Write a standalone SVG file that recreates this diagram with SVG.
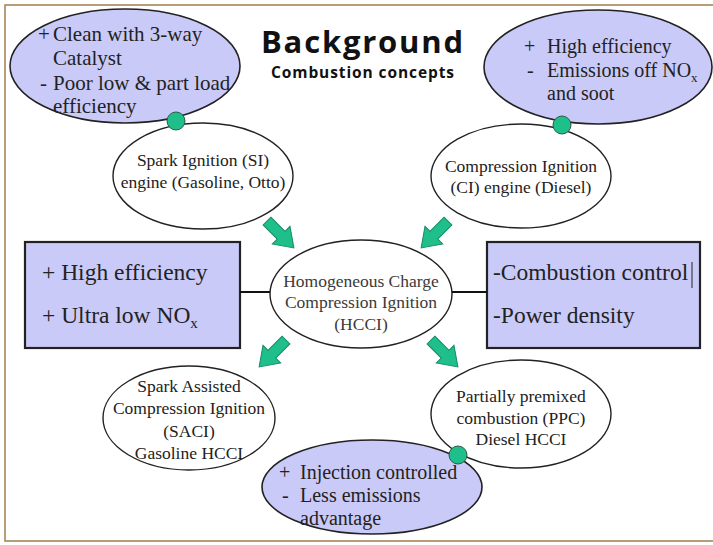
<svg xmlns="http://www.w3.org/2000/svg" width="713" height="545" viewBox="0 0 713 545">
<style>
.lav{fill:#cacaf8;stroke:#222;stroke-width:1.6}
.wht{fill:#fff;stroke:#222;stroke-width:1.4}
.box{fill:#cacaf8;stroke:#222;stroke-width:2.2}
text.t{font-family:'Liberation Serif','DejaVu Serif','Times New Roman',Times,serif;fill:#222}
.s17{font-size:17.5px;text-anchor:middle}
.s20{font-size:20px}
.s21{font-size:21px}
.s23{font-size:23.5px}
.sub{font-size:13px}
.dot{fill:#1fbf8c;stroke:#2a5a48;stroke-width:1}
.arr{fill:#1fbf8c;stroke:#178a66;stroke-width:1}
.ln{stroke:#111;stroke-width:2;fill:none}
text.h{font-family:'Open Sans','Liberation Sans',sans-serif;font-weight:700;fill:#111}
text.g{fill:#3a3a3a}
</style>
<defs>
<path id="ar" d="M0,-5.5 L20,-5.5 L20,-12.5 L38,0 L20,12.5 L20,5.5 L0,5.5 Z"/>
</defs>
<rect x="0" y="0" width="713" height="545" fill="#fff"/>
<rect x="5" y="5" width="740" height="536" fill="none" stroke="#a98458" stroke-width="1.6"/>

<g id="title">
<text class="h" x="261" y="53" font-size="31" textLength="202" lengthAdjust="spacing">Background</text>
<text class="h" x="271" y="78" font-size="15.5" textLength="183" lengthAdjust="spacing">Combustion concepts</text>
</g>

<g id="si-engine">
<ellipse class="wht" cx="203" cy="176" rx="90" ry="53"/>
<text class="t s17" x="203" y="166">Spark Ignition (SI)</text>
<text class="t s17" x="203" y="188">engine (Gasoline, Otto)</text>
</g>

<g id="si-notes">
<ellipse class="lav" cx="125" cy="66" rx="115" ry="57"/>
<text class="t s21" x="38" y="41">+</text>
<text class="t s21" x="53" y="41">Clean with 3-way</text>
<text class="t s21" x="53" y="65">Catalyst</text>
<text class="t s21" x="40" y="90">-</text>
<text class="t s21" x="53" y="90">Poor low &amp; part load</text>
<text class="t s21" x="53" y="113">efficiency</text>
</g>

<g id="ci-engine">
<ellipse class="wht" cx="521" cy="176" rx="90" ry="52"/>
<text class="t s17" x="521" y="172">Compression Ignition</text>
<text class="t s17" x="521" y="193">(CI) engine (Diesel)</text>
</g>

<g id="ci-notes">
<ellipse class="lav" cx="598" cy="67" rx="114" ry="57"/>
<text class="t s20" x="524" y="53">+</text>
<text class="t s20" x="547" y="53">High efficiency</text>
<text class="t s20" x="527" y="77">-</text>
<text class="t s20" x="547" y="77">Emissions off NO<tspan class="sub" dy="5">x</tspan></text>
<text class="t s20" x="547" y="100">and soot</text>
</g>

<g id="hcci">
<ellipse class="wht" cx="361" cy="294" rx="91" ry="54"/>
<text class="t g s17" x="361" y="287">Homogeneous Charge</text>
<text class="t g s17" x="361" y="308">Compression Ignition</text>
<text class="t g s17" x="361" y="330">(HCCI)</text>
</g>

<g id="pros">
<rect class="box" x="25" y="242" width="215" height="106"/>
<text class="t s23" x="42" y="280">+ High efficiency</text>
<text class="t s23" x="42" y="323">+ Ultra low NO<tspan font-size="15" dy="5">x</tspan></text>
</g>

<g id="cons">
<rect class="box" x="487" y="242" width="213" height="106"/>
<text class="t s23" x="493" y="280">-Combustion control</text>
<line x1="692" y1="262" x2="692" y2="288" stroke="#222" stroke-width="1"/>
<text class="t s23" x="493" y="323">-Power density</text>
</g>

<g id="saci">
<ellipse class="wht" cx="189" cy="418" rx="86" ry="52"/>
<text class="t s17" x="189" y="392">Spark Assisted</text>
<text class="t s17" x="189" y="414">Compression Ignition</text>
<text class="t s17" x="189" y="437">(SACI)</text>
<text class="t s17" x="189" y="459">Gasoline HCCI</text>
</g>

<g id="ppc">
<ellipse class="wht" cx="521" cy="414" rx="90" ry="54"/>
<text class="t s17" x="521" y="402">Partially premixed</text>
<text class="t s17" x="521" y="424">combustion (PPC)</text>
<text class="t s17" x="521" y="445">Diesel HCCI</text>
</g>

<g id="ppc-notes">
<ellipse class="lav" cx="372" cy="487" rx="110" ry="47"/>
<text class="t s20" x="279" y="479">+</text>
<text class="t s20" x="300" y="479">Injection controlled</text>
<text class="t s20" x="282" y="502">-</text>
<text class="t s20" x="300" y="502">Less emissions</text>
<text class="t s20" x="300" y="525">advantage</text>
</g>

<g id="connectors">
<line class="ln" x1="240" y1="292" x2="270" y2="292"/>
<line class="ln" x1="452" y1="292" x2="487" y2="292"/>
<use href="#ar" class="arr" transform="translate(267,221) rotate(45)"/>
<use href="#ar" class="arr" transform="translate(448,221) rotate(135)"/>
<use href="#ar" class="arr" transform="translate(286,340) rotate(135)"/>
<use href="#ar" class="arr" transform="translate(431,340) rotate(45)"/>
<circle class="dot" cx="176" cy="121" r="9"/>
<circle class="dot" cx="562" cy="125" r="9"/>
<circle class="dot" cx="458" cy="455" r="9"/>
</g>
</svg>
